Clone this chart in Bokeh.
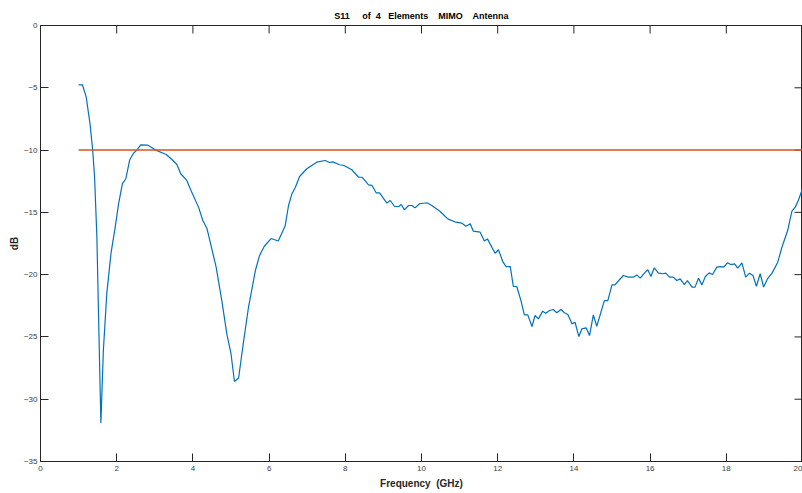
import math
from bokeh.plotting import figure
from bokeh.models import Range1d, FixedTicker
from bokeh.embed import file_html
from bokeh.resources import INLINE

freq = [1.00, 1.10, 1.20, 1.30, 1.37, 1.42, 1.48, 1.53, 1.585, 1.65, 1.74, 1.85, 1.96, 2.05,
        2.15, 2.24, 2.34, 2.44, 2.53, 2.63, 2.81, 3.01, 3.30, 3.45, 3.58, 3.68, 3.84, 3.95,
        4.15, 4.26, 4.37, 4.61, 4.76, 4.89, 5.00, 5.09, 5.20, 5.31, 5.46, 5.64, 5.75, 5.87,
        6.05, 6.24, 6.42, 6.51, 6.60, 6.69, 6.80, 6.99, 7.25, 7.47, 7.59, 7.67, 7.85, 7.97,
        8.17, 8.35, 8.44, 8.61, 8.70, 8.81, 8.90, 9.09, 9.18, 9.29, 9.40, 9.47, 9.55, 9.66,
        9.75, 9.83, 9.95, 10.14, 10.27, 10.49, 10.69, 10.90, 11.06, 11.17, 11.28, 11.36,
        11.54, 11.65, 11.73, 11.93, 12.02, 12.14, 12.22, 12.33, 12.41, 12.50, 12.61, 12.70,
        12.79, 12.90, 12.98, 13.07, 13.18, 13.26, 13.36, 13.46, 13.55, 13.66, 13.75, 13.84,
        13.95, 14.03, 14.13, 14.21, 14.32, 14.41, 14.51, 14.60, 14.71, 14.80, 14.89, 15.00,
        15.08, 15.20, 15.30, 15.43, 15.56, 15.65, 15.74, 15.85, 15.94, 16.02, 16.11, 16.22,
        16.34, 16.41, 16.51, 16.61, 16.70, 16.79, 16.90, 16.98, 17.10, 17.18, 17.27, 17.36,
        17.45, 17.55, 17.64, 17.75, 17.84, 17.93, 18.03, 18.12, 18.22, 18.30, 18.41, 18.51,
        18.61, 18.70, 18.79, 18.89, 18.98, 19.08, 19.20, 19.35, 19.46, 19.61, 19.72, 19.81,
        19.89, 20.00]
s11 = [-4.76, -4.76, -5.75, -7.9, -10.0, -12.2, -17.0, -24.2, -31.9, -26.1, -21.5, -18.3, -16.2, -14.3,
       -12.7, -12.3, -10.8, -10.25, -10.0, -9.58, -9.6, -9.98, -10.35, -10.76, -11.16, -11.9, -12.44, -13.25,
       -14.6, -15.65, -16.3, -19.4, -22.1, -24.75, -26.35, -28.58, -28.3, -25.8, -22.6, -19.67, -18.46, -17.74,
       -17.1, -17.3, -16.1, -14.45, -13.5, -12.98, -12.12, -11.5, -10.97, -10.84, -11.0, -10.95, -11.18, -11.24,
       -11.58, -12.18, -12.18, -12.79, -12.84, -13.43, -13.43, -14.26, -14.05, -14.53, -14.53, -14.37, -14.8, -14.45,
       -14.45, -14.64, -14.31, -14.23, -14.45, -14.93, -15.52, -15.79, -15.87, -16.11, -15.92, -16.51,
       -16.59, -17.3, -17.13, -18.28, -18.0, -19.0, -19.35, -19.35, -20.95, -20.95, -22.08, -23.23,
       -23.23, -24.16, -23.28, -23.55, -22.93, -23.09, -22.88, -22.8, -23.06, -22.8, -23.06, -23.2,
       -23.95, -23.82, -24.97, -24.35, -24.27, -24.89, -23.23, -24.14, -23.01, -22.08, -22.08, -20.82,
       -20.82, -20.39, -20.07, -20.2, -20.2, -20.02, -20.28, -19.88, -19.61, -20.15, -19.45, -19.88,
       -19.93, -19.88, -20.2, -20.2, -20.47, -20.34, -20.8, -20.47, -21.0, -21.0, -20.28, -20.82,
       -20.15, -19.86, -19.99, -19.4, -19.35, -19.4, -19.05, -19.19, -19.13, -19.48, -19.05, -20.2,
       -19.88, -20.07, -20.93, -19.93, -21.0, -20.34, -19.88, -19.0, -17.8, -16.46, -14.93, -14.58,
       -14.05, -13.1]

ref_freq = [1.0, 20.0]
ref_level = [-10.0, -10.0]

x_ticks = [0, 2, 4, 6, 8, 10, 12, 14, 16, 18, 20]
y_ticks = [-35, -30, -25, -20, -15, -10, -5, 0]
x_lim = [0, 20]
y_lim = [-35, 0]

FONT = "Liberation Sans"
NB = "\u00a0"


def gap(n):
    # visible run of n spaces (SVG collapses plain runs)
    return (NB + " ") * (n // 2) + (NB if n % 2 else "")


TITLE = "S11" + gap(5) + "of" + gap(2) + "4" + gap(3) + "Elements" + gap(4) + "MIMO" + gap(4) + "Antenna"
XLABEL = "Frequency" + gap(2) + "(GHz)"

p = figure(width=802, height=493, output_backend="svg", toolbar_location=None,
           x_range=Range1d(*x_lim), y_range=Range1d(*y_lim),
           min_border_left=40, min_border_right=0, min_border_top=25, min_border_bottom=32,
           title=TITLE)

p.title.align = "center"
p.title.text_font = FONT
p.title.text_font_size = "9px"
p.title.text_font_style = "bold"
p.title.text_color = "#000000"
p.title.standoff = 10

p.grid.visible = False
p.outline_line_color = "#262626"
p.outline_line_width = 1
p.background_fill_color = "white"
p.border_fill_color = "white"

for ax, ticks in ((p.xaxis[0], x_ticks), (p.yaxis[0], y_ticks)):
    ax.ticker = FixedTicker(ticks=ticks)
    ax.major_tick_in = 8
    ax.major_tick_out = 0
    ax.minor_tick_line_color = None
    ax.axis_line_color = "#262626"
    ax.major_tick_line_color = "#262626"
    ax.major_label_text_font = FONT
    ax.major_label_text_font_size = "8px"
    ax.major_label_text_color = "#404040"
    ax.axis_label_text_font = FONT
    ax.axis_label_text_font_size = "10px"
    ax.axis_label_text_font_style = "bold"
    ax.axis_label_text_color = "#262626"

p.xaxis.axis_label = XLABEL
p.xaxis.major_label_standoff = 4
p.xaxis.axis_label_standoff = 4
p.yaxis.axis_label = "dB"
p.yaxis.major_label_standoff = 3
p.yaxis.axis_label_standoff = 1

# inward ticks on top and right edges of the box (MATLAB style)
p.ray(x=x_ticks, y=[y_lim[1]] * len(x_ticks), length=8, length_units="screen",
      angle=-math.pi / 2, line_color="#262626", line_width=1)
p.ray(x=[x_lim[1]] * len(y_ticks), y=y_ticks, length=8, length_units="screen",
      angle=math.pi, line_color="#262626", line_width=1)

p.line(freq, s11, line_color="#0072BD", line_width=1.2)
p.line(ref_freq, ref_level, line_color="#D95319", line_width=1.5)

open("out.html", "w").write(file_html(p, INLINE))
